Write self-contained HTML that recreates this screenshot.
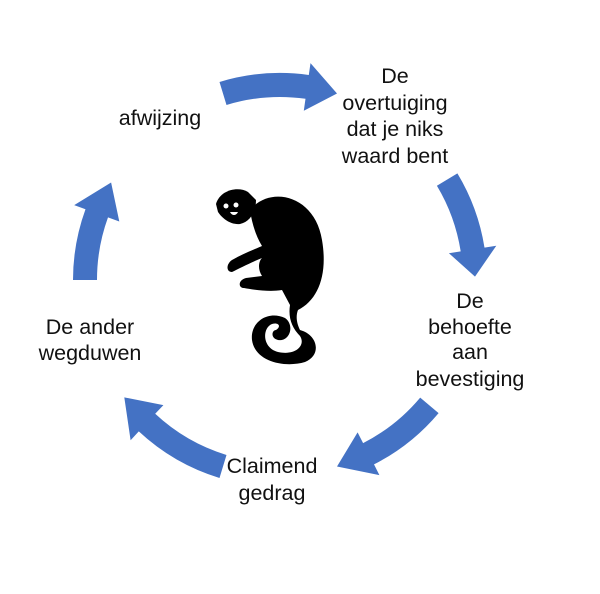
<!DOCTYPE html>
<html><head><meta charset="utf-8"><style>
body{margin:0;background:#fff;width:600px;height:594px;overflow:hidden}
svg{display:block}
text{font-family:"Liberation Sans","DejaVu Sans",sans-serif;font-size:21.5px;fill:#111;text-anchor:middle}
</style></head><body>
<svg id="s" width="600" height="594" viewBox="0 0 600 594">
<g id="arrows" fill="#4472C4"></g>
<g fill="#000">
 <path d="M250,210 C270,185 315,195 322,240 C328,275 318,300 298,310 C296,315 296,322 300,330 C318,335 322,355 305,362 C285,368 255,362 252,340 C250,322 268,310 285,318 C295,325 290,342 278,340 C270,338 272,330 276,330 C282,326 278,322 272,324 C262,328 262,348 278,352 C296,356 306,345 300,336 C292,328 288,318 290,305 L282,290 C270,292 255,290 244,288 C238,288 238,280 246,278 L262,276 C258,270 258,262 262,258 C252,262 240,268 232,272 C226,272 226,264 232,260 C246,252 258,248 262,246 C256,236 252,224 250,210Z"/>
 <path d="M216,204 C220,190 238,186 248,192 L256,200 C256,212 250,222 240,224 C230,225 222,218 218,212Z"/>
 <circle cx="226" cy="206" r="2.5" fill="#fff"/><circle cx="236" cy="205" r="2.5" fill="#fff"/>
 <path d="M230,212 C232,216 236,216 238,212Z" fill="#fff"/>
</g>
<text x="395" y="83">De</text>
<text x="395" y="110">overtuiging</text>
<text x="395" y="136">dat je niks</text>
<text x="395" y="163">waard bent</text>
<text x="470" y="308">De</text>
<text x="470" y="334">behoefte</text>
<text x="470" y="359">aan</text>
<text x="470" y="386">bevestiging</text>
<text x="272" y="473">Claimend</text>
<text x="272" y="500">gedrag</text>
<text x="90" y="334">De ander</text>
<text x="90" y="360">wegduwen</text>
<text x="160" y="125">afwijzing</text>
</svg>
<script>
var cx=280,cy=280,R=195,w=12,hw=24;
function P(r,a){a=a*Math.PI/180;return (cx+r*Math.cos(a)).toFixed(1)+","+(cy+r*Math.sin(a)).toFixed(1);}
function arrow(a0,a1,tip){
 var d="M"+P(R-w,a0)+" A"+(R-w)+","+(R-w)+" 0 0 1 "+P(R-w,a1)+" L"+P(R-hw,a1)+" L"+P(R,tip)+" L"+P(R+hw,a1)+" L"+P(R+w,a1)+" A"+(R+w)+","+(R+w)+" 0 0 0 "+P(R+w,a0)+"Z";
 var p=document.createElementNS("http://www.w3.org/2000/svg","path");p.setAttribute("d",d);document.getElementById("arrows").appendChild(p);
}
arrow(-107,-82,-73);
arrow(-31,-9,-1);
arrow(40,63,73);
arrow(107,133,143);
arrow(180,200,210);
</script>
</body></html>
